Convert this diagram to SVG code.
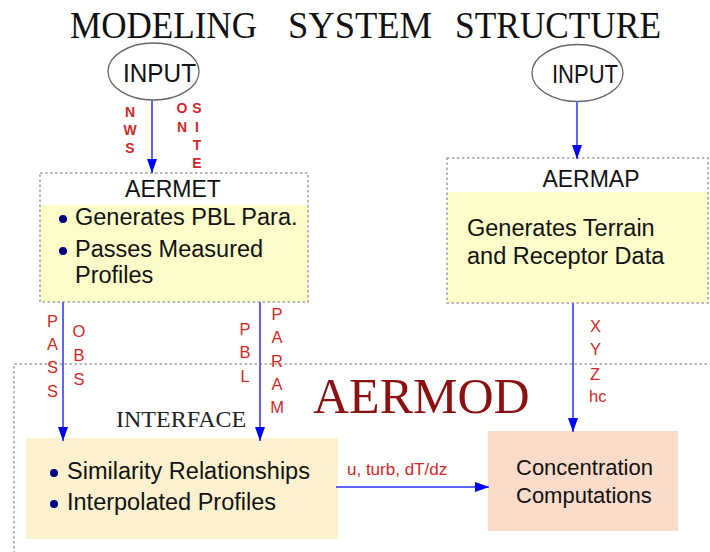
<svg xmlns="http://www.w3.org/2000/svg" width="710" height="552" viewBox="0 0 710 552">
<style>
.title{font-family:"Liberation Serif","Times New Roman",serif;font-size:38px;fill:#111}
.inp{font-family:"Liberation Sans",Arial,sans-serif;font-size:26px;fill:#111}
.hd{font-family:"Liberation Sans",Arial,sans-serif;font-size:23px;fill:#111}
.body{font-family:"Liberation Sans",Arial,sans-serif;font-size:23.5px;fill:#111}
.lbl{font-family:"Liberation Sans",Arial,sans-serif;font-size:14px;font-weight:bold;fill:#d02828;text-anchor:middle}
.lbl2{font-family:"Liberation Sans",Arial,sans-serif;font-size:16.5px;fill:#d02828;text-anchor:middle}
.lbl3{font-family:"Liberation Sans",Arial,sans-serif;font-size:17px;fill:#d02828}
.dot{fill:none;stroke:#a0a0a0;stroke-width:1.5;stroke-dasharray:2.5,2.5}
.bul{fill:#000080}
.ell{fill:#fff;stroke:#666;stroke-width:1.3}
.conn{stroke:#6262ff;stroke-width:2;fill:none}
</style>
<defs>
<marker id="ah" markerUnits="userSpaceOnUse" markerWidth="14" markerHeight="10" viewBox="0 0 14 10" refX="14" refY="5" orient="auto">
<path d="M0,0 L14,5 L0,10 Z" fill="#0000ff"/>
</marker>
</defs>

<text class="title" y="38"><tspan x="70" textLength="187" lengthAdjust="spacingAndGlyphs">MODELING</tspan><tspan x="288" textLength="144" lengthAdjust="spacingAndGlyphs">SYSTEM</tspan><tspan x="455" textLength="206" lengthAdjust="spacingAndGlyphs">STRUCTURE</tspan></text>

<g id="input-left">
<ellipse class="ell" cx="153.5" cy="71.5" rx="45.5" ry="28.5"/>
<text class="inp" x="123" y="82" textLength="73" lengthAdjust="spacingAndGlyphs">INPUT</text>
</g>

<g id="input-right">
<ellipse class="ell" cx="577.5" cy="73" rx="45.5" ry="28.5"/>
<text class="inp" x="552" y="83" textLength="66" lengthAdjust="spacingAndGlyphs">INPUT</text>
</g>

<g id="aermod">
<path class="dot" d="M712,364 L14,364 L14,554"/>
<text x="313" y="413" font-family="Liberation Serif, Times New Roman, serif" font-size="50" fill="#8b1010">AERMOD</text>
</g>

<g id="aermet">
<rect x="40" y="205" width="268" height="97" fill="#fdfdc9"/>
<rect class="dot" x="40" y="173" width="268" height="129"/>
<text class="hd" x="173" y="197" text-anchor="middle">AERMET</text>
<circle class="bul" cx="63" cy="219" r="4"/>
<text class="body" x="75" y="225">Generates PBL Para.</text>
<circle class="bul" cx="63" cy="251" r="4"/>
<text class="body" x="75" y="257">Passes Measured</text>
<text class="body" x="75" y="283">Profiles</text>
</g>

<g id="aermap">
<rect x="447" y="192" width="261" height="111" fill="#fdfdc9"/>
<rect class="dot" x="447" y="158" width="261" height="145"/>
<text class="hd" x="591" y="187" text-anchor="middle">AERMAP</text>
<text class="body" x="467" y="236">Generates Terrain</text>
<text class="body" x="467" y="264">and Receptor Data</text>
</g>

<g id="interface">
<text x="116" y="427" font-family="Liberation Serif, Times New Roman, serif" font-size="24" fill="#222">INTERFACE</text>
<rect x="26" y="438" width="312" height="101" fill="#fcf1cf"/>
<circle class="bul" cx="54" cy="473" r="4"/>
<text class="body" x="67" y="479">Similarity Relationships</text>
<circle class="bul" cx="54" cy="504" r="4"/>
<text class="body" x="67" y="510">Interpolated Profiles</text>
</g>

<g id="concentration">
<rect x="488" y="431" width="190" height="100" fill="#fbdcca"/>
<text x="516" y="475" font-family="Liberation Sans, Arial, sans-serif" font-size="22" fill="#111">Concentration</text>
<text x="516" y="503" font-family="Liberation Sans, Arial, sans-serif" font-size="22" fill="#111">Computations</text>
</g>

<g id="connectors">
<line class="conn" x1="152" y1="100" x2="152" y2="173" marker-end="url(#ah)"/>
<line class="conn" x1="577" y1="101" x2="577" y2="159" marker-end="url(#ah)"/>
<line class="conn" x1="63" y1="302" x2="63" y2="441" marker-end="url(#ah)"/>
<line class="conn" x1="260" y1="302" x2="260" y2="441" marker-end="url(#ah)"/>
<line class="conn" x1="573" y1="303" x2="573" y2="432" marker-end="url(#ah)"/>
<line class="conn" x1="336" y1="487" x2="489" y2="487" marker-end="url(#ah)"/>

<text class="lbl"><tspan x="130" y="117">N</tspan><tspan x="130" y="135">W</tspan><tspan x="130" y="153">S</tspan></text>
<text class="lbl"><tspan x="182" y="113">O</tspan><tspan x="182" y="132">N</tspan></text>
<text class="lbl"><tspan x="197" y="113">S</tspan><tspan x="197" y="132">I</tspan><tspan x="197" y="150">T</tspan><tspan x="197" y="168">E</tspan></text>

<text class="lbl2"><tspan x="52.5" y="327">P</tspan><tspan x="52.5" y="350">A</tspan><tspan x="52.5" y="373">S</tspan><tspan x="52.5" y="397">S</tspan></text>
<text class="lbl2"><tspan x="79" y="337">O</tspan><tspan x="79" y="361">B</tspan><tspan x="79" y="385">S</tspan></text>
<text class="lbl2"><tspan x="245" y="335">P</tspan><tspan x="245" y="358">B</tspan><tspan x="245" y="382">L</tspan></text>
<text class="lbl2"><tspan x="277" y="320">P</tspan><tspan x="277" y="343">A</tspan><tspan x="277" y="367">R</tspan><tspan x="277" y="390">A</tspan><tspan x="277" y="413">M</tspan></text>
<text class="lbl2" style="text-anchor:start"><tspan x="590" y="332">X</tspan><tspan x="590" y="355">Y</tspan><tspan x="590" y="380">Z</tspan><tspan x="589" y="402">hc</tspan></text>
<text class="lbl3" x="347" y="475">u, turb, dT/dz</text>
</g>
</svg>
